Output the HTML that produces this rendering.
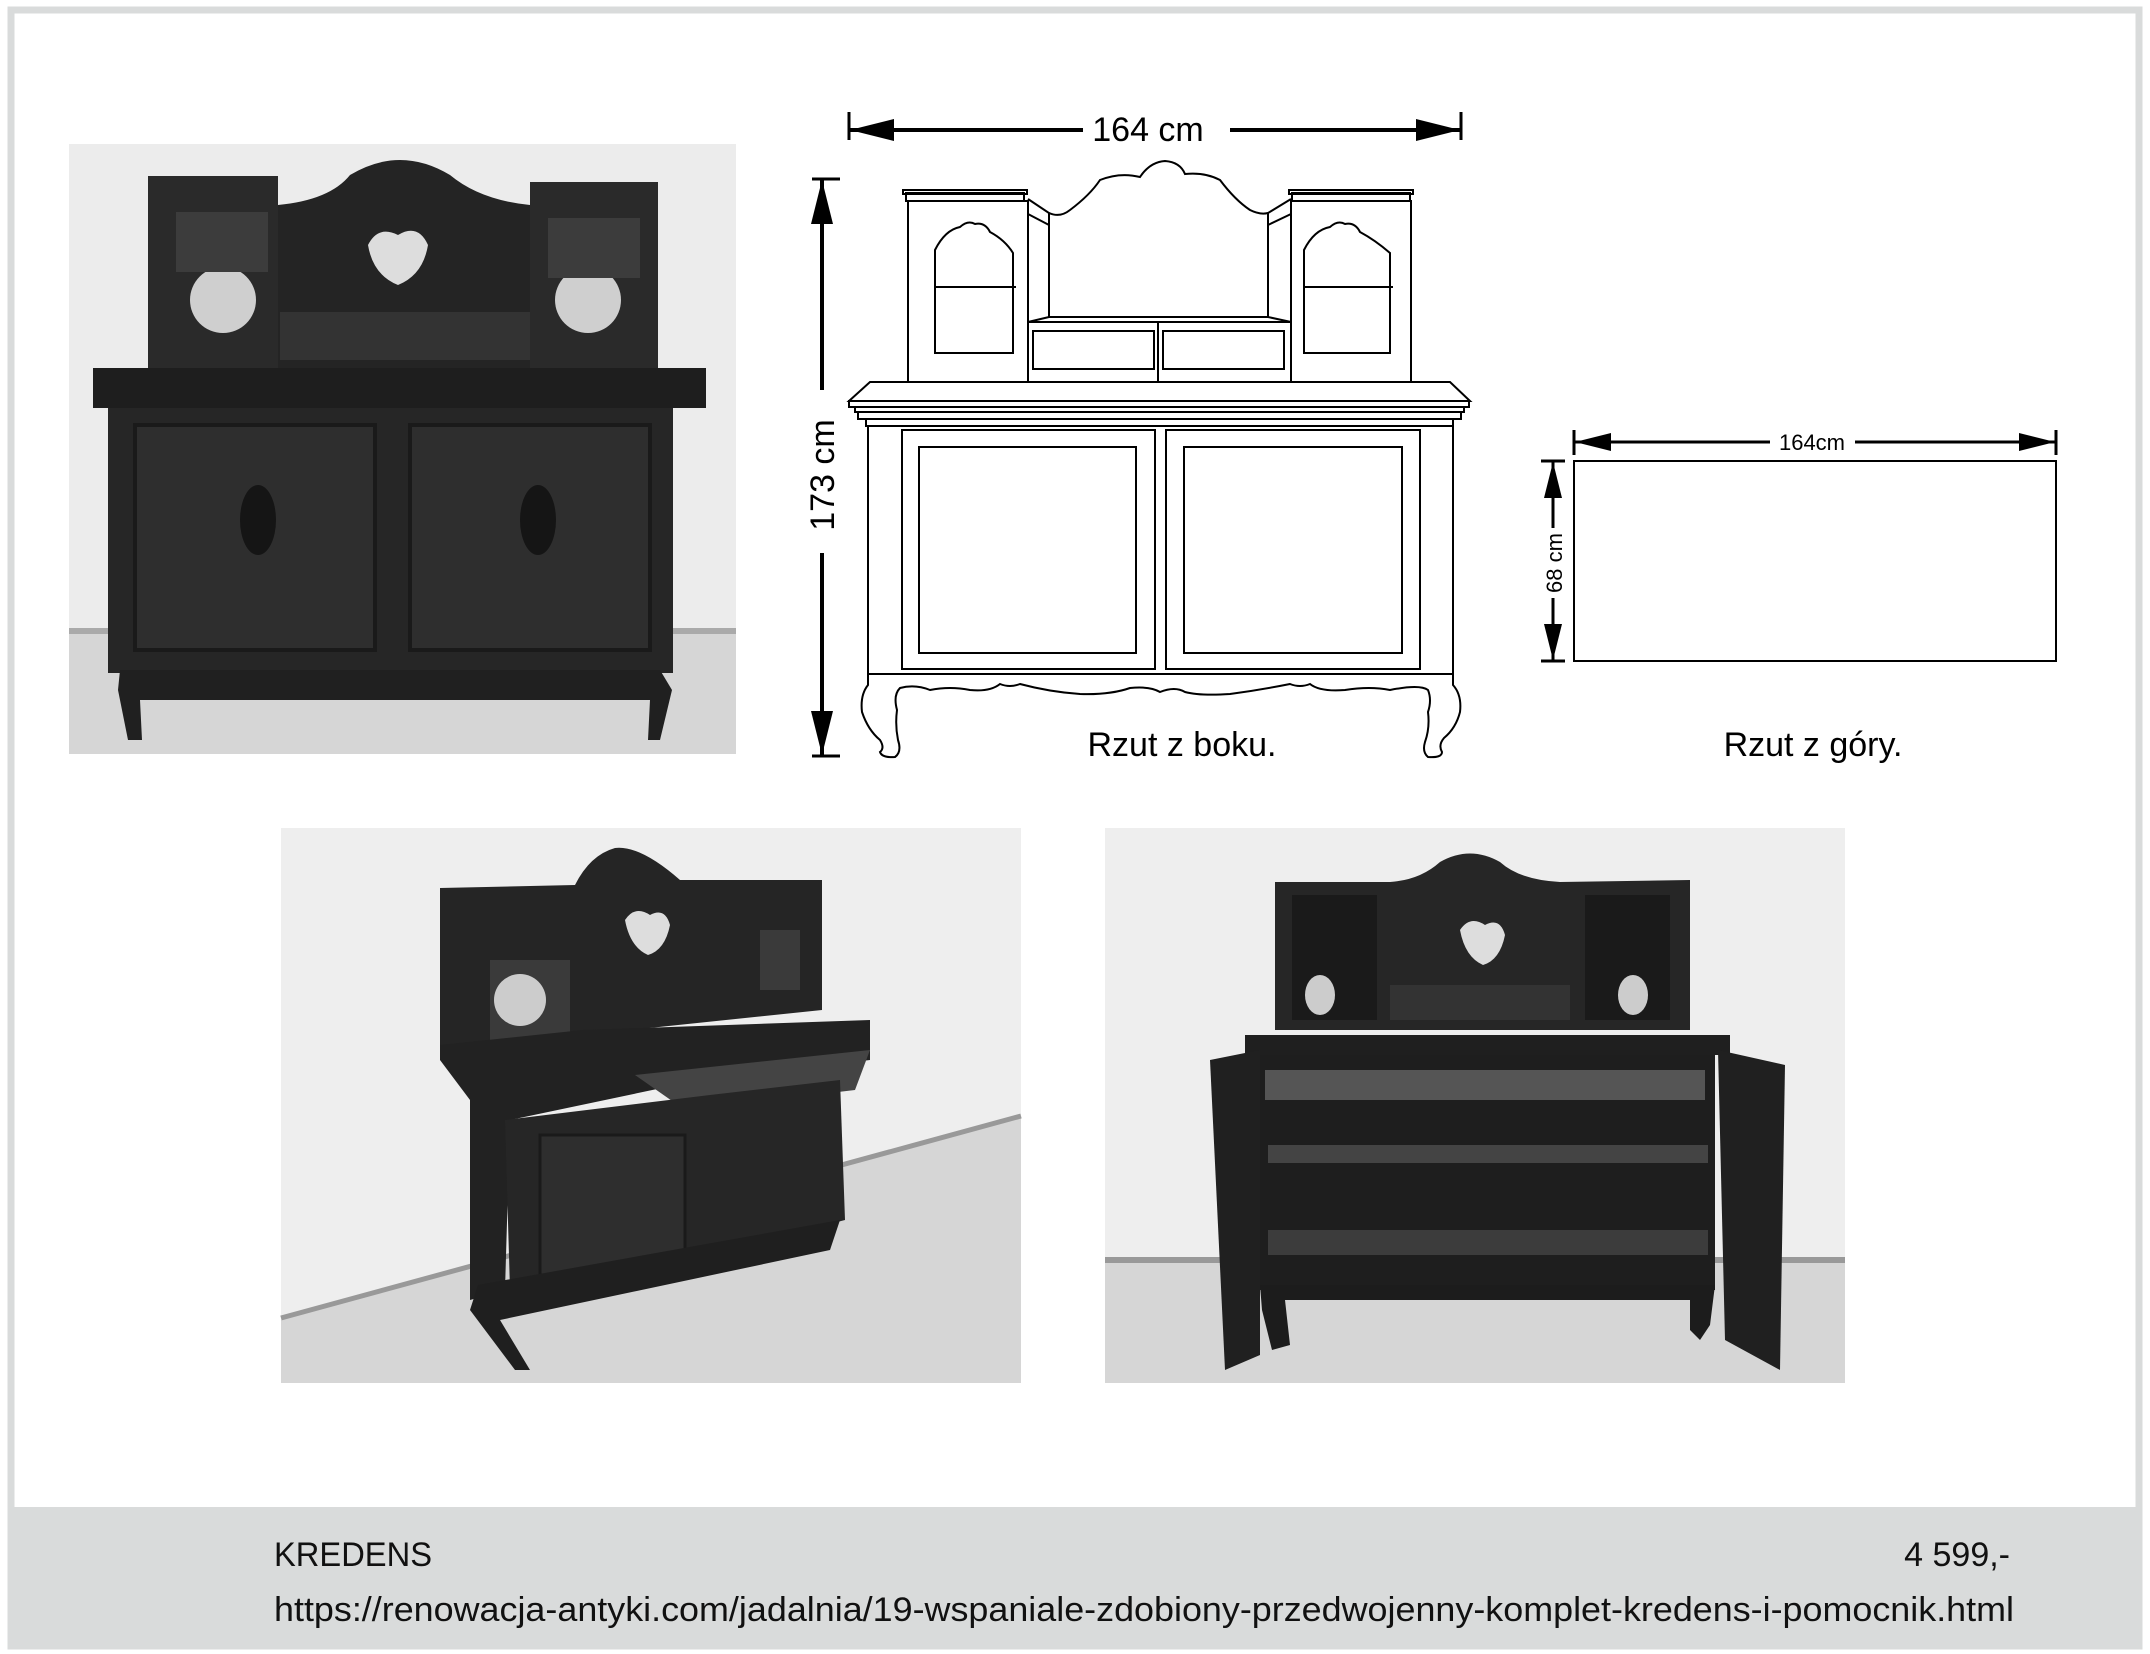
<!DOCTYPE html>
<html><head><meta charset="utf-8"><style>
html,body{margin:0;padding:0;background:#fff}
svg{display:block}
text{font-family:"Liberation Sans",sans-serif}
</style></head><body>
<svg width="2150" height="1654" viewBox="0 0 2150 1654" xmlns="http://www.w3.org/2000/svg">
<defs>
<marker id="ar" viewBox="0 0 10 10" refX="10" refY="5" markerWidth="44" markerHeight="22" orient="auto-start-reverse" markerUnits="userSpaceOnUse" preserveAspectRatio="none">
<path d="M0,0 L10,5 L0,10 z" fill="#000"/></marker>
<marker id="as" viewBox="0 0 10 10" refX="10" refY="5" markerWidth="36" markerHeight="18" orient="auto-start-reverse" markerUnits="userSpaceOnUse" preserveAspectRatio="none">
<path d="M0,0 L10,5 L0,10 z" fill="#000"/></marker>
</defs>
<rect x="0" y="0" width="2150" height="1654" fill="#fff"/>
<rect x="11" y="10" width="2128" height="1636" fill="none" stroke="#d9dbdb" stroke-width="7"/>
<rect x="8" y="1507" width="2134" height="141" fill="#d9dbdb"/>

<!-- Photo 1 -->
<g>
<rect x="69" y="144" width="667" height="610" fill="#ececec"/>
<rect x="69" y="633" width="667" height="121" fill="#d6d6d6"/>
<rect x="69" y="628" width="667" height="6" fill="#aaa"/>
<rect x="148" y="176" width="130" height="192" fill="#2a2a2a"/>
<rect x="530" y="182" width="128" height="186" fill="#2a2a2a"/>
<path d="M278,205 Q330,200 350,175 Q400,145 450,175 Q480,200 530,205 L530,368 L278,368z" fill="#242424"/>
<rect x="280" y="312" width="250" height="48" fill="#333"/>
<path d="M368,245 q10,-20 30,-10 q20,-12 30,10 q-5,30 -30,40 q-25,-10 -30,-40z" fill="#ddd"/>
<circle cx="223" cy="300" r="33" fill="#cfcfcf"/><circle cx="588" cy="300" r="33" fill="#cfcfcf"/>
<rect x="176" y="212" width="92" height="60" fill="#3c3c3c"/><rect x="548" y="218" width="92" height="60" fill="#3c3c3c"/>
<rect x="93" y="368" width="613" height="40" fill="#1e1e1e"/>
<rect x="108" y="408" width="565" height="265" fill="#262626"/>
<rect x="135" y="425" width="240" height="225" fill="#2e2e2e" stroke="#1a1a1a" stroke-width="4"/>
<rect x="410" y="425" width="240" height="225" fill="#2e2e2e" stroke="#1a1a1a" stroke-width="4"/>
<ellipse cx="258" cy="520" rx="18" ry="35" fill="#151515"/><ellipse cx="538" cy="520" rx="18" ry="35" fill="#151515"/>
<path d="M120,670 L660,670 L672,690 L660,740 L648,740 L650,700 L140,700 L142,740 L128,740 L118,690z" fill="#202020"/>
</g>

<!-- Photo 2 -->
<g>
<rect x="281" y="828" width="740" height="555" fill="#eeeeee"/>
<path d="M281,1320 L1021,1118 L1021,1383 L281,1383z" fill="#d6d6d6"/>
<path d="M281,1318 L1021,1116" stroke="#999" stroke-width="5" fill="none"/>
<path d="M440,888 L575,885 Q590,855 615,848 Q640,845 680,880 L706,880 L822,880 L822,1010 L583,1035 L440,1055z" fill="#252525"/>
<rect x="490" y="960" width="80" height="80" fill="#3a3a3a"/>
<circle cx="520" cy="1000" r="26" fill="#ccc"/>
<rect x="760" y="930" width="40" height="60" fill="#3a3a3a"/>
<path d="M625,920 q10,-15 25,-5 q15,-8 20,10 q-5,25 -22,30 q-18,-8 -23,-35z" fill="#ddd"/>
<path d="M440,1045 L583,1030 L870,1020 L870,1060 L700,1080 L510,1120 L505,1290 L470,1300 L470,1100 L440,1060z" fill="#222"/>
<path d="M635,1075 L870,1050 L855,1090 L685,1110z" fill="#444"/>
<path d="M505,1120 L710,1095 L840,1080 L845,1220 L710,1255 L510,1290z" fill="#262626"/>
<rect x="540" y="1135" width="145" height="140" fill="#2e2e2e" stroke="#1a1a1a" stroke-width="3"/>
<path d="M478,1285 L840,1220 L830,1250 L500,1320 L530,1370 L515,1370 L470,1310z" fill="#1f1f1f"/>
</g>

<!-- Photo 3 -->
<g>
<rect x="1105" y="828" width="740" height="555" fill="#eeeeee"/>
<rect x="1105" y="1262" width="740" height="121" fill="#d6d6d6"/>
<rect x="1105" y="1257" width="740" height="6" fill="#999"/>
<path d="M1275,882 L1390,882 Q1420,880 1440,862 Q1470,845 1500,862 Q1520,880 1560,882 L1690,880 L1690,1030 L1275,1030z" fill="#262626"/>
<rect x="1292" y="895" width="85" height="125" fill="#1a1a1a"/><rect x="1585" y="895" width="85" height="125" fill="#1a1a1a"/>
<ellipse cx="1320" cy="995" rx="15" ry="20" fill="#ccc"/><ellipse cx="1633" cy="995" rx="15" ry="20" fill="#ccc"/>
<rect x="1390" y="985" width="180" height="35" fill="#333"/>
<path d="M1460,930 q10,-15 25,-5 q15,-8 20,10 q-5,25 -22,30 q-18,-8 -23,-35z" fill="#ddd"/>
<rect x="1245" y="1035" width="485" height="20" fill="#1f1f1f"/>
<rect x="1260" y="1055" width="455" height="235" fill="#1e1e1e"/>
<rect x="1265" y="1070" width="440" height="30" fill="#555"/>
<rect x="1268" y="1145" width="440" height="18" fill="#444"/>
<rect x="1268" y="1230" width="440" height="25" fill="#3c3c3c"/>
<path d="M1210,1060 L1260,1050 L1260,1355 L1225,1370z" fill="#202020"/>
<path d="M1718,1050 L1785,1065 L1780,1370 L1725,1340z" fill="#202020"/>
<path d="M1260,1285 L1715,1285 L1710,1325 L1700,1340 L1690,1330 L1690,1300 L1285,1300 L1290,1345 L1272,1350 L1262,1310z" fill="#1c1c1c"/>
</g>

<!-- Side drawing -->
<g fill="none" stroke="#000" stroke-width="2">
<line x1="849" y1="112" x2="849" y2="140" stroke-width="3"/>
<line x1="1461" y1="112" x2="1461" y2="140" stroke-width="3"/>
<line x1="850" y1="130" x2="1083" y2="130" stroke-width="4" marker-start="url(#ar)"/>
<line x1="1230" y1="130" x2="1460" y2="130" stroke-width="4" marker-end="url(#ar)"/>
<line x1="812" y1="179" x2="840" y2="179" stroke-width="3"/>
<line x1="812" y1="756" x2="840" y2="756" stroke-width="3"/>
<line x1="822" y1="180" x2="822" y2="390" stroke-width="4" marker-start="url(#ar)"/>
<line x1="822" y1="553" x2="822" y2="755" stroke-width="4" marker-end="url(#ar)"/>

<path d="M1049,213 Q1060,218 1070,210 Q1090,195 1100,180 Q1120,172 1140,177 Q1150,162 1165,161 Q1180,162 1185,174 Q1205,172 1220,180 Q1235,200 1250,210 Q1260,215 1268,213"/>
<rect x="903" y="190" width="124" height="4"/><rect x="906" y="193" width="118" height="8"/>
<rect x="908" y="201" width="120" height="181"/>
<path d="M935,250 Q945,230 960,227 Q968,220 975,224 Q985,222 990,232 Q1005,240 1013,253 L1013,353 L935,353z"/>
<line x1="935" y1="287" x2="1016" y2="287"/>
<path d="M1028,199 L1049,213 L1049,317 M1028,214 L1049,225"/>
<rect x="1289" y="190" width="124" height="4"/><rect x="1292" y="193" width="118" height="8"/>
<rect x="1291" y="201" width="120" height="181"/>
<path d="M1304,250 Q1314,230 1330,227 Q1338,220 1345,224 Q1355,222 1360,232 Q1375,240 1390,253 L1390,353 L1304,353z"/>
<line x1="1304" y1="287" x2="1393" y2="287"/>
<path d="M1291,199 L1268,213 L1268,317 M1291,214 L1268,225"/>
<path d="M1028,322 L1049,317 L1268,317 L1291,322"/>
<rect x="1028" y="322" width="130" height="60"/><rect x="1158" y="322" width="133" height="60"/>
<rect x="1033" y="331" width="121" height="38"/><rect x="1163" y="331" width="121" height="38"/>
<path d="M870,382 L1450,382 L1470,401 L849,401 z"/>
<rect x="849" y="401" width="620" height="6"/>
<rect x="855" y="407" width="609" height="5"/>
<rect x="858" y="412" width="603" height="7"/>
<rect x="866" y="419" width="587" height="7"/>
<rect x="868" y="426" width="585" height="248"/>
<rect x="902" y="430" width="253" height="239"/><rect x="919" y="447" width="217" height="206"/>
<rect x="1166" y="430" width="254" height="239"/><rect x="1184" y="447" width="218" height="206"/>
<path d="M868,674 L868,685 Q860,695 862,712 Q868,730 880,740 Q885,748 880,752 Q882,758 895,757 Q902,752 898,740 Q895,725 897,710 Q893,695 900,688 Q915,684 930,690 Q950,686 970,690 Q990,692 1000,684 Q1010,688 1020,684 Q1050,692 1080,694 Q1110,695 1130,688 Q1150,686 1160,692 Q1175,686 1185,692 Q1200,696 1230,694 Q1260,690 1290,684 Q1300,688 1310,684 Q1320,692 1345,690 Q1370,686 1390,690 Q1420,684 1428,690 Q1432,700 1428,712 Q1430,728 1425,742 Q1422,752 1428,757 Q1442,758 1442,752 Q1438,745 1444,738 Q1456,728 1460,712 Q1462,695 1453,685 L1453,674"/>
<rect x="1574" y="461" width="482" height="200"/>
<line x1="1574" y1="430" x2="1574" y2="455" stroke-width="3"/>
<line x1="2056" y1="430" x2="2056" y2="455" stroke-width="3"/>
<line x1="1575" y1="442" x2="1770" y2="442" stroke-width="3" marker-start="url(#as)"/>
<line x1="1855" y1="442" x2="2055" y2="442" stroke-width="3" marker-end="url(#as)"/>
<line x1="1541" y1="461" x2="1565" y2="461" stroke-width="3"/>
<line x1="1541" y1="661" x2="1565" y2="661" stroke-width="3"/>
<line x1="1553" y1="462" x2="1553" y2="528" stroke-width="3" marker-start="url(#as)"/>
<line x1="1553" y1="598" x2="1553" y2="660" stroke-width="3" marker-end="url(#as)"/>
</g>
<text x="1148" y="141" font-size="34" text-anchor="middle">164 cm</text>
<text transform="translate(834,475) rotate(-90)" font-size="34" text-anchor="middle">173 cm</text>
<text x="1182" y="756" font-size="34" text-anchor="middle">Rzut z boku.</text>
<text x="1812" y="450" font-size="22" text-anchor="middle">164cm</text>
<text transform="translate(1562,563) rotate(-90)" font-size="22" text-anchor="middle">68 cm</text>
<text x="1813" y="756" font-size="34" text-anchor="middle">Rzut z góry.</text>

<text x="274" y="1566" font-size="34" fill="#111" textLength="158" lengthAdjust="spacingAndGlyphs">KREDENS</text>
<text x="2010" y="1566" font-size="34" fill="#111" text-anchor="end">4 599,-</text>
<text x="274" y="1621" font-size="34" fill="#111" textLength="1740" lengthAdjust="spacingAndGlyphs">https://renowacja-antyki.com/jadalnia/19-wspaniale-zdobiony-przedwojenny-komplet-kredens-i-pomocnik.html</text>
</svg>
</body></html>
